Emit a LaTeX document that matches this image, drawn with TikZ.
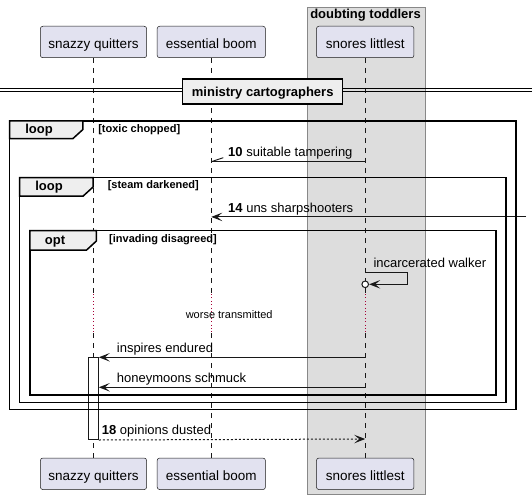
\documentclass[tikz,border=0pt]{standalone}
\usepackage{fontspec}
\setmainfont{Liberation Sans}
\usetikzlibrary{arrows.meta}
\definecolor{partfill}{HTML}{E2E2F0}
\definecolor{grpfill}{HTML}{DDDDDD}
\definecolor{tabfill}{HTML}{EEEEEE}
\definecolor{ink}{HTML}{181818}
\definecolor{grpline}{HTML}{888888}
\definecolor{delayc}{HTML}{A80036}
\begin{document}
\begin{tikzpicture}[x=1pt,y=-1pt,
  part/.style={draw=ink, line width=0.5pt, fill=partfill, rounded corners=2.5pt,
    minimum height=31.5pt, inner sep=0pt, text height=20pt, text depth=7.4pt,
    font=\fontsize{13.5}{16}\selectfont},
  life/.style={draw=ink, line width=0.5pt, dash pattern=on 5pt off 5pt},
  delayline/.style={draw=delayc, line width=0.8pt, dash pattern=on 0.8pt off 2.6pt},
  msg/.style={draw=ink, line width=1pt},
  tipped/.style={-{Stealth[length=11pt,width=8.5pt,inset=5pt]}},
  msglabel/.style={font=\fontsize{13}{15}\selectfont, anchor=base west, inner sep=0pt},
  frame/.style={draw=black, line width=1.5pt},
  tabbox/.style={draw=black, line width=1.5pt, fill=tabfill},
  tablabel/.style={font=\bfseries\fontsize{13}{15}\selectfont, anchor=base, inner sep=0pt},
  guard/.style={font=\bfseries\fontsize{11}{13}\selectfont, anchor=base west, inner sep=0pt}
]
\useasboundingbox (0,0) rectangle (532,497);

% group box
\node[draw=grpline, fill=grpfill, line width=1pt, minimum width=117.8pt, minimum height=487pt,
  anchor=north west, inner sep=0pt] (grp) at (306.7,6.8) {};
\node[font=\bfseries\fontsize{13}{15}\selectfont, anchor=base, inner sep=0pt] (grpt) at (365.5,19) {doubting toddlers};

% participants top
\node[part, minimum width=106.3pt] (sqT) at (93.5,42) {snazzy quitters};
\node[part, minimum width=108.3pt] (ebT) at (211.3,42) {essential boom};
\node[part, minimum width=97.5pt] (slT) at (365.2,42) {snores littlest};
% participants bottom
\node[part, minimum width=106.3pt] (sqB) at (93.5,473.8) {snazzy quitters};
\node[part, minimum width=108.3pt] (ebB) at (211.3,473.8) {essential boom};
\node[part, minimum width=97.5pt] (slB) at (365.2,473.8) {snores littlest};

% lifelines with delay break
\foreach \p/\q in {sqT/sqB, ebT/ebB, slT/slB}{
  \coordinate (\p d1) at (\p.south |- 0,294);
  \coordinate (\p d2) at (\p.south |- 0,333);
  \draw[life] (\p.south) -- (\p d1);
  \draw[delayline] (\p d1) -- (\p d2);
  \draw[life] (\p d2) -- (\q.north);
}

% divider
\draw[black, line width=1pt] (0,88.6) -- (532,88.6);
\draw[black, line width=1pt] (0,91.6) -- (532,91.6);
\node[draw=black, line width=1.5pt, fill=tabfill, minimum width=160pt, minimum height=25pt,
  inner sep=0pt, text height=17pt, text depth=6pt,
  font=\bfseries\fontsize{13}{15}\selectfont] (div) at (262.7,91.3) {ministry cartographers};

% activation
\node[draw=ink, fill=white, line width=1pt, minimum width=10pt, minimum height=81.7pt,
  inner sep=0pt, anchor=north] (act) at (93.3,357.3) {};

% message 10
\coordinate (m10a) at (slT.south |- 0,161.7);
\coordinate (m10b) at (ebT.south |- 0,161.7);
\draw[msg] (m10a) -- (m10b);
\draw[msg] (m10b) -- ++(12,-4);
\node[msglabel] (l10) at (228,156.7) {\textbf{10} suitable tampering};

% message 14
\coordinate (m14a) at (526,216.9);
\coordinate (m14b) at (ebT.south |- 0,216.9);
\draw[msg, tipped] (m14a) -- (m14b);
\node[msglabel] (l14) at (228,212) {\textbf{14} uns sharpshooters};

% self message
\coordinate (s1) at (slT.south |- 0,272.3);
\coordinate (s2) at (407.7,272.3);
\coordinate (s3) at (407.7,284.3);
\coordinate (s4) at (369.2,284.3);
\coordinate (sc) at (slT.south |- 0,284.3);
\draw[msg, tipped] (s1) -- (s2) -- (s3) -- (s4);
\draw[draw=ink, fill=white, line width=1pt] (sc) circle (3.3pt);
\node[msglabel] (lself) at (373.3,267.3) {incarcerated walker};

% delay text
\node[font=\fontsize{11}{13}\selectfont, anchor=base, inner sep=0pt] (delay) at (229.2,318.3) {worse transmitted};

% inspires endured
\coordinate (ia) at (slT.south |- 0,357.3);
\draw[msg, tipped] (ia) -- (act.north east);
\node[msglabel] (li) at (116.7,352.3) {inspires endured};

% honeymoons schmuck
\coordinate (ha) at (slT.south |- 0,387.3);
\coordinate (hb) at (act.east |- 0,387.3);
\draw[msg, tipped] (ha) -- (hb);
\node[msglabel] (lh) at (116.7,382.3) {honeymoons schmuck};

% 18 opinions dusted
\coordinate (oa) at (slT.south |- 0,439);
\draw[msg, tipped, dash pattern=on 2pt off 2pt] (act.south east) -- (oa);
\node[msglabel] (lo) at (101.7,434) {\textbf{18} opinions dusted};

% frames
\draw[frame] (9.5,120.8) rectangle (516,409.3);
\draw[tabbox] (9.5,120.8) -- (82.9,120.8) -- (82.9,129.5) -- (72.9,138.6) -- (9.5,138.6) -- cycle;
\node[tablabel] (f1) at (39,133.5) {loop};
\node[guard] (g1) at (98.1,132.5) {[toxic chopped]};

\draw[frame] (19.6,177.5) rectangle (506,402.3);
\draw[tabbox] (19.6,177.5) -- (93.1,177.5) -- (93.1,187) -- (83.1,196.1) -- (19.6,196.1) -- cycle;
\node[tablabel] (f2) at (49,190.5) {loop};
\node[guard] (g2) at (107.6,188.5) {[steam darkened]};

\draw[frame] (29.8,230.7) rectangle (496,395);
\draw[tabbox] (29.8,230.7) -- (96.4,230.7) -- (96.4,241) -- (86.4,250.2) -- (29.8,250.2) -- cycle;
\node[tablabel] (f3) at (55,244.3) {opt};
\node[guard] (g3) at (109,242) {[invading disagreed]};
\end{tikzpicture}
\end{document}
